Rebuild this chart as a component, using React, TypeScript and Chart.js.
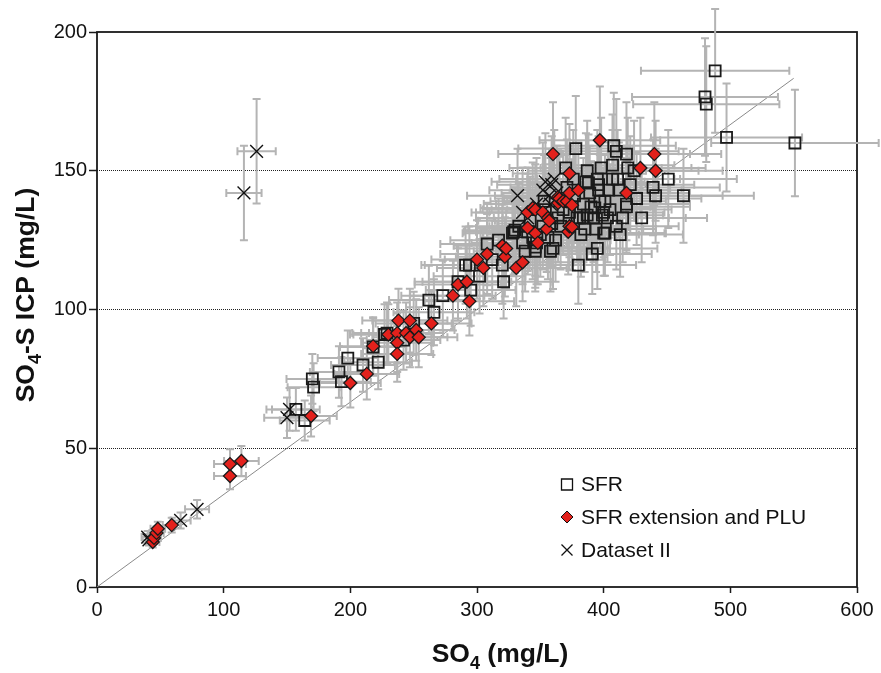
import React, { useEffect, useRef } from 'react';
import { Chart, registerables } from 'chart.js';

Chart.register(...registerables);

// ---- Data (SO4 in mg/L vs SO4-S ICP in mg/L) ----
const SFR_X = [157, 164, 170, 171, 191, 193, 198, 210, 218, 222, 227, 229, 242, 250, 262, 266, 273, 285, 291, 294, 295, 302, 308, 312, 317, 320, 321, 328, 329, 330, 333, 336, 338, 340, 342, 344, 346, 346, 347, 350, 352, 353, 354, 356, 358, 359, 360, 362, 364, 366, 368, 370, 371, 373, 376, 377, 378, 379, 380, 381, 382, 384, 384, 385, 386, 387, 387, 388, 389, 390, 391, 392, 393, 394, 395, 395, 396, 396, 397, 398, 399, 400, 400, 401, 401, 403, 404, 405, 407, 407, 408, 410, 410, 411, 412, 413, 415, 418, 418, 418, 419, 421, 424, 426, 430, 439, 441, 451, 463, 480, 481, 488, 497, 551];
const SFR_Y = [64, 60, 75, 72, 77.5, 74, 82.5, 80, 86.5, 81, 91, 91.5, 89, 95, 103.4, 99, 105, 110, 116, 116, 107, 112, 123.6, 118, 125, 116, 110, 127.5, 128, 128.6, 130, 124, 121, 128, 132, 126, 121, 122.5, 124, 127, 130, 139, 136, 126, 121, 131, 122, 125, 133, 130, 136, 151, 144, 135, 147, 141, 158, 133, 116, 133, 127, 138, 133, 129, 146, 150, 134, 145.6, 142, 137, 120, 133, 136.6, 129, 122, 147, 143, 145, 139, 151, 134, 135, 127.5, 139, 127.5, 133, 143, 136, 152, 147, 159, 157, 130, 147, 143, 127, 133, 156, 138, 137, 151, 145, 150, 140, 133, 144, 141, 147, 141, 176.6, 174, 186, 162, 160];

const EXT_X = [44, 45, 47, 48, 59, 105, 105, 114, 169, 200, 213, 218, 230, 237, 237, 237, 238, 244, 247, 247, 252, 254, 264, 281, 285, 292, 294, 300, 305, 308, 320, 322, 323, 331, 336, 340, 340, 344, 346, 346, 348, 352, 355, 356, 357, 360, 364, 364, 365, 368, 371, 372, 373, 373, 373, 375, 375, 380, 397, 418, 429, 440, 441];
const EXT_Y = [16.2, 17.7, 19.5, 21, 22.3, 40, 44.3, 45.4, 61.6, 73.5, 76.8, 86.8, 91, 91.5, 88, 84, 96, 91.5, 96, 90, 92.6, 90, 95, 105, 109, 110, 103, 118, 115, 120, 123, 119, 122, 115, 117, 129.4, 135, 136.6, 136, 127.5, 124, 135, 129, 133, 132, 156, 138.4, 140.5, 140, 139, 139, 128, 149, 142, 130, 137.6, 129.7, 143, 161, 142, 151, 156, 150];

const DS2_X = [40, 41, 66, 79, 116, 126, 150, 152, 332, 336, 340, 347, 352, 354, 357, 358, 359, 361, 363, 365];
const DS2_Y = [18, 17, 24, 28, 142, 157, 61, 64, 141, 135, 133, 138, 143, 146, 141, 138, 145, 147, 142, 139];

// SO4-S = SO4 / 3 reference line (end points)
const REF_X = [0, 550];
const REF_Y = [0, 183.3];

// relative analytical uncertainty used for the error bars
const REL_ERR_X = 0.12;
const REL_ERR_Y = 0.12;

const X_TICKS = [0, 100, 200, 300, 400, 500, 600];
const Y_TICKS = [0, 50, 100, 150, 200];
const Y_GRID = [50, 100, 150];
const LEGEND_LABELS = ['SFR', 'SFR extension and PLU', 'Dataset II'];

const FONT = '"Liberation Sans", Arial, Helvetica, sans-serif';
const RED = '#e3211c';

function pts(xs: number[], ys: number[]) {
  return xs.map((x, i) => ({ x, y: ys[i] }));
}

type Part = { t: string; sub?: boolean };

function drawRich(ctx: CanvasRenderingContext2D, parts: Part[], cx: number, baseline: number, size: number) {
  const subSize = Math.round(size * 0.68);
  let total = 0;
  const widths = parts.map((p) => {
    ctx.font = `bold ${p.sub ? subSize : size}px ${FONT}`;
    const w = ctx.measureText(p.t).width;
    total += w;
    return w;
  });
  let x = cx - total / 2;
  ctx.textAlign = 'left';
  ctx.textBaseline = 'alphabetic';
  parts.forEach((p, i) => {
    ctx.font = `bold ${p.sub ? subSize : size}px ${FONT}`;
    ctx.fillText(p.t, x, baseline + (p.sub ? size * 0.28 : 0));
    x += widths[i];
  });
}

const errorBarPlugin = {
  id: 'errorBars',
  afterDatasetDraw(chart: any, args: any) {
    if (args.index !== 3) return;
    const ctx: CanvasRenderingContext2D = chart.ctx;
    const xs = chart.scales.x;
    const ys = chart.scales.y;
    const cap = 4;
    ctx.save();
    ctx.strokeStyle = '#b4b4b4';
    ctx.lineWidth = 2;
    const sets = [[SFR_X, SFR_Y], [EXT_X, EXT_Y], [DS2_X, DS2_Y]];
    sets.forEach(([X, Y]) => {
      X.forEach((xv, i) => {
        const yv = Y[i];
        const px = xs.getPixelForValue(xv);
        const py = ys.getPixelForValue(yv);
        const x1 = xs.getPixelForValue(xv * (1 - REL_ERR_X));
        const x2 = xs.getPixelForValue(xv * (1 + REL_ERR_X));
        const y1 = ys.getPixelForValue(yv * (1 - REL_ERR_Y));
        const y2 = ys.getPixelForValue(yv * (1 + REL_ERR_Y));
        ctx.beginPath();
        ctx.moveTo(x1, py); ctx.lineTo(x2, py);
        ctx.moveTo(x1, py - cap); ctx.lineTo(x1, py + cap);
        ctx.moveTo(x2, py - cap); ctx.lineTo(x2, py + cap);
        ctx.moveTo(px, y1); ctx.lineTo(px, y2);
        ctx.moveTo(px - cap, y1); ctx.lineTo(px + cap, y1);
        ctx.moveTo(px - cap, y2); ctx.lineTo(px + cap, y2);
        ctx.stroke();
      });
    });
    ctx.restore();
  },
};

const framePlugin = {
  id: 'frame',
  beforeDatasetsDraw(chart: any) {
    const { ctx, chartArea: a } = chart;
    ctx.save();
    ctx.strokeStyle = '#1a1a1a';
    ctx.lineWidth = 1.8;
    ctx.strokeRect(a.left, a.top, a.right - a.left, a.bottom - a.top);
    ctx.restore();
  },
};

const textPlugin = {
  id: 'texts',
  afterDraw(chart: any) {
    const ctx: CanvasRenderingContext2D = chart.ctx;
    ctx.save();
    ctx.fillStyle = '#111';
    // x title
    drawRich(ctx, [{ t: 'SO' }, { t: '4', sub: true }, { t: ' (mg/L)' }], 500, 662, 26.5);
    // y title
    ctx.save();
    ctx.translate(34, 295);
    ctx.rotate(-Math.PI / 2);
    drawRich(ctx, [{ t: 'SO' }, { t: '4', sub: true }, { t: '-S ICP (mg/L)' }], 0, 0, 26.5);
    ctx.restore();

    // legend
    const lx = 567;
    const rows = [484.5, 517, 550];
    ctx.font = `21px ${FONT}`;
    ctx.textAlign = 'left';
    ctx.textBaseline = 'middle';
    rows.forEach((ry, i) => {
      ctx.fillStyle = '#111';
      ctx.fillText(LEGEND_LABELS[i], lx + 14, ry + 1);
      ctx.beginPath();
      if (i === 0) {
        ctx.strokeStyle = '#111';
        ctx.lineWidth = 1.3;
        ctx.rect(lx - 5.5, ry - 5.5, 11, 11);
        ctx.stroke();
      } else if (i === 1) {
        ctx.moveTo(lx - 6, ry); ctx.lineTo(lx, ry - 6); ctx.lineTo(lx + 6, ry); ctx.lineTo(lx, ry + 6);
        ctx.closePath();
        ctx.fillStyle = RED;
        ctx.fill();
        ctx.strokeStyle = '#111';
        ctx.lineWidth = 1;
        ctx.stroke();
      } else {
        ctx.strokeStyle = '#111';
        ctx.lineWidth = 1.3;
        ctx.moveTo(lx - 5.5, ry - 5.5); ctx.lineTo(lx + 5.5, ry + 5.5);
        ctx.moveTo(lx + 5.5, ry - 5.5); ctx.lineTo(lx - 5.5, ry + 5.5);
        ctx.stroke();
      }
    });
    ctx.restore();
  },
};

export default function App() {
  const ref = useRef<HTMLCanvasElement | null>(null);

  useEffect(() => {
    if (!ref.current) return;
    const chart = new Chart(ref.current, {
      type: 'scatter',
      data: {
        datasets: [
          {
            label: LEGEND_LABELS[0],
            data: pts(SFR_X, SFR_Y),
            pointStyle: 'rect',
            pointRadius: 7.8,
            pointBackgroundColor: 'rgba(0,0,0,0)',
            pointBorderColor: '#1a1a1a',
            pointBorderWidth: 1.8,
            order: 3,
          },
          {
            label: LEGEND_LABELS[1],
            data: pts(EXT_X, EXT_Y),
            pointStyle: 'rectRot',
            pointRadius: 6.5,
            pointBackgroundColor: RED,
            pointBorderColor: '#1a1a1a',
            pointBorderWidth: 1.3,
            order: 1,
          },
          {
            label: LEGEND_LABELS[2],
            data: pts(DS2_X, DS2_Y),
            pointStyle: 'crossRot',
            pointRadius: 9,
            pointBorderColor: '#111',
            pointBorderWidth: 1.4,
            order: 2,
          },
          {
            type: 'line',
            label: 'ref',
            data: pts(REF_X, REF_Y),
            borderColor: '#8a8a8a',
            borderWidth: 1,
            pointRadius: 0,
            showLine: true,
            fill: false,
            order: 10,
          } as any,
        ],
      },
      options: {
        responsive: false,
        animation: false,
        layout: { padding: { top: 32, right: 24, left: 0, bottom: 0 } },
        plugins: { legend: { display: false }, tooltip: { enabled: false } },
        scales: {
          x: {
            type: 'linear',
            min: 0,
            max: 600,
            afterFit: (s: any) => { s.height = 86; },
            afterBuildTicks: (s: any) => { s.ticks = X_TICKS.map((v) => ({ value: v })); },
            border: { display: false },
            grid: {
              color: 'rgba(0,0,0,0)',
              drawTicks: true,
              tickLength: 6,
              tickColor: '#1a1a1a',
              tickWidth: 1.5,
            },
            ticks: {
              color: '#111',
              font: { family: FONT, size: 20 },
              padding: 5,
              maxRotation: 0,
            },
          },
          y: {
            type: 'linear',
            min: 0,
            max: 200,
            afterFit: (s: any) => { s.width = 97; },
            afterBuildTicks: (s: any) => { s.ticks = Y_TICKS.map((v) => ({ value: v })); },
            border: { display: false, dash: [1, 1] },
            grid: {
              color: (c: any) => (Y_GRID.includes(c.tick?.value) ? '#222' : 'rgba(0,0,0,0)'),
              lineWidth: 1,
              drawTicks: true,
              tickLength: 8,
              tickColor: '#1a1a1a',
              tickWidth: 1.5,
              tickBorderDash: [],
            } as any,
            ticks: {
              color: '#111',
              font: { family: FONT, size: 20 },
              padding: 2,
            },
          },
        },
      },
      plugins: [framePlugin, errorBarPlugin, textPlugin],
    });
    return () => chart.destroy();
  }, []);

  return (
    <div style={{ position: 'absolute', left: 0, top: 0, width: 881, height: 673, background: '#fff' }}>
      <canvas ref={ref} width={881} height={673} style={{ display: 'block' }} />
    </div>
  );
}
